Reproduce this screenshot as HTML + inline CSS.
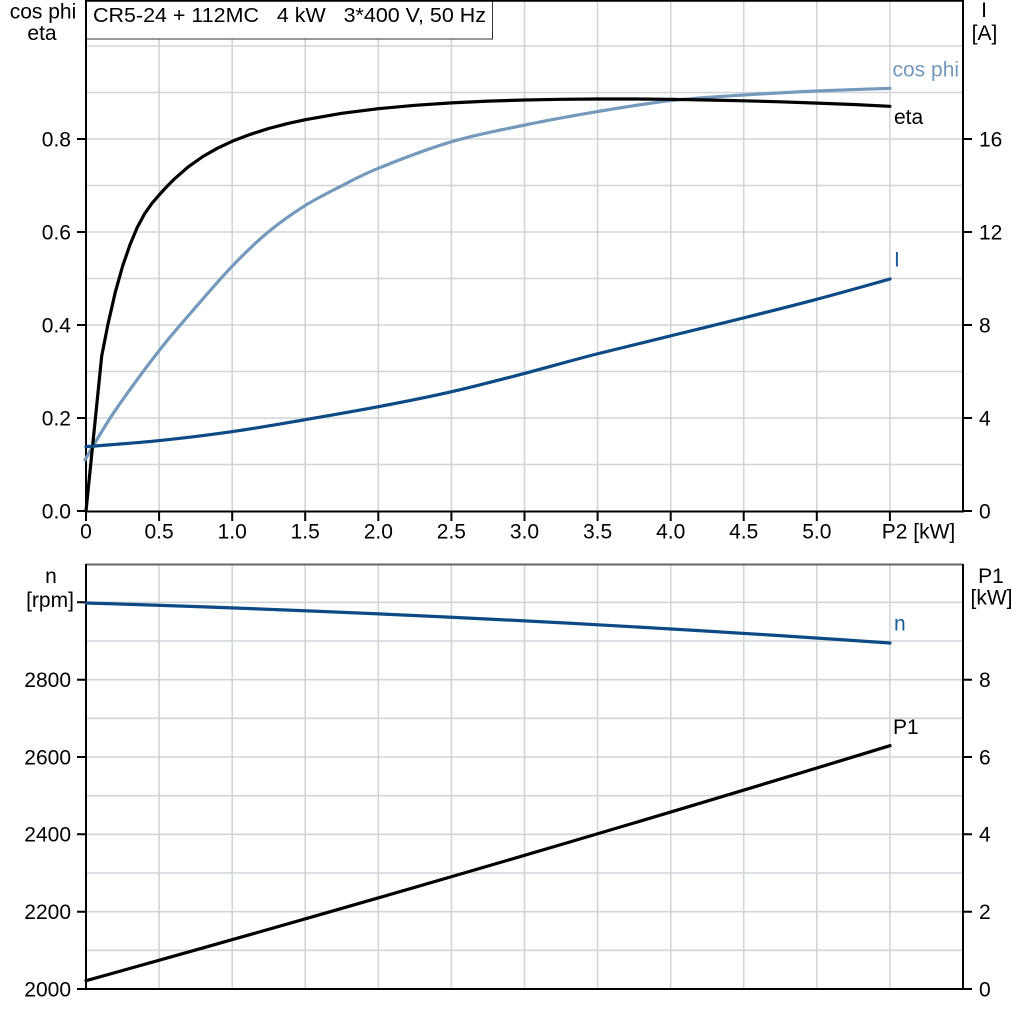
<!DOCTYPE html>
<html><head><meta charset="utf-8"><style>
html,body{margin:0;padding:0;background:#fff;}
svg{display:block;}
text{font-family:"Liberation Sans",Arial,sans-serif;font-size:21px;fill:#000;}
</style></head><body>
<svg width="1024" height="1024" viewBox="0 0 1024 1024" xmlns="http://www.w3.org/2000/svg">
<rect width="1024" height="1024" fill="#fff"/>
<!-- top grid -->
<g stroke="#d2d5d8" stroke-width="1.6" fill="none">
<path d="M86 464.5H963M86 418H963M86 371.5H963M86 325H963M86 278.5H963M86 232H963M86 185.5H963M86 139H963M86 92.5H963M86 46H963"/>
<path d="M159.1 0V511M232.2 0V511M305.2 0V511M378.3 0V511M451.4 0V511M524.5 0V511M597.6 0V511M670.7 0V511M743.7 0V511M816.8 0V511M889.9 0V511"/>
<!-- bottom grid -->
<path d="M86 950.3H963M86 911.7H963M86 873H963M86 834.3H963M86 795.7H963M86 757H963M86 718.3H963M86 679.7H963M86 641H963M86 602.3H963"/>
<path d="M159.1 564V989M232.2 564V989M305.2 564V989M378.3 564V989M451.4 564V989M524.5 564V989M597.6 564V989M670.7 564V989M743.7 564V989M816.8 564V989M889.9 564V989"/>
</g>
<!-- title box -->
<rect x="86.5" y="0.5" width="406" height="38.5" fill="#fff" stroke="#333" stroke-width="1"/>
<text x="93" y="22" xml:space="preserve" textLength="393" lengthAdjust="spacingAndGlyphs" style="font-size:20px">CR5-24 + 112MC   4 kW   3*400 V, 50 Hz</text>
<!-- top axes -->
<g stroke="#000" stroke-width="2" fill="none">
<path d="M86 0.8H963"/>
<path d="M86 0V512M963 0V512M85 511.5H964"/>
<path d="M77 511H86M77 418H86M77 325H86M77 232H86M77 139H86"/>
<path d="M963 511H972M963 418H972M963 325H972M963 232H972M963 139H972"/>
<path d="M86 512V521M159.1 512V521M232.2 512V521M305.2 512V521M378.3 512V521M451.4 512V521M524.5 512V521M597.6 512V521M670.7 512V521M743.7 512V521M816.8 512V521M889.9 512V521"/>
</g>
<!-- bottom axes -->
<path d="M86 564.5H963" stroke="#666" stroke-width="2"/>
<g stroke="#000" stroke-width="2" fill="none">
<path d="M86 564V990M963 564V990M85 989H964"/>
<path d="M77 989H86M77 911.7H86M77 834.3H86M77 757H86M77 679.7H86M77 602.3H86"/>
<path d="M963 989H972M963 911.7H972M963 834.3H972M963 757H972M963 679.7H972"/>
</g>
<!-- top series -->
<g fill="none" stroke-width="3.2" stroke-linejoin="round" stroke-linecap="round">
<path stroke="#7499bc" d="M85,460 C89.7,452.2 101.1,431.4 113.3,413.3 C125.5,395.3 145,368.9 158.3,351.7 C171.6,334.5 181.1,324.2 193.3,310 C205.5,295.8 219.5,279.5 231.7,266.7 C243.9,253.9 254.8,243.3 266.7,233.3 C278.6,223.3 291.1,214.5 303.3,206.7 C315.5,198.9 327.5,193.1 340,186.7 C352.5,180.3 359.7,175.8 378.3,168.3 C396.9,160.8 427.3,148.9 451.7,141.7 C476.1,134.5 500.8,130 525,125 C549.2,120 572.5,115.8 596.7,111.7 C620.9,107.7 645.6,103.5 670,100.7 C694.4,97.9 718.9,96.6 743.3,95 C767.8,93.4 792.3,92.1 816.7,91 C841.2,89.9 877.8,88.8 890,88.3"/>
<polyline stroke="#000" points="86,511 101.7,356 107.9,324.5 115.2,292.6 122.5,266.5 129.9,245 137.2,227.5 144.5,214 151.8,203.5 159.1,195 166.4,187 173.7,179.6 188.3,166.8 202.9,156.5 217.5,148.2 232.2,141.3 250.5,134.3 268.7,128.5 287,123.7 305.3,119.7 341.8,113.3 378.3,108.7 414.9,105.3 451.4,102.9 488,101.1 524.5,100 561,99.3 597.6,99 634.1,99 670.7,99.3 707.2,100 743.8,100.8 780.3,101.8 816.9,103.1 853.4,104.5 889.9,106.3"/>
<path stroke="#0d4a85" d="M86,446.7 C98.05,445.7 134.0,443.2 158.3,440.7 C182.6,438.2 207.5,435.2 231.7,431.7 C255.9,428.3 278.9,424.2 303.3,420 C327.7,415.8 353.6,411.4 378.3,406.7 C403.0,402.0 427.3,397.3 451.7,391.7 C476.1,386.1 500.8,379.6 525,373.3 C549.2,367.0 572.3,360.2 596.7,354 C621.1,347.8 645.6,342.1 670,336 C694.4,329.9 718.9,324.1 743.3,318 C767.8,311.9 792.3,305.8 816.7,299.3 C841.2,292.8 877.8,282.4 890,279"/>
</g>
<!-- bottom series -->
<g fill="none" stroke-width="3.2" stroke-linejoin="round" stroke-linecap="round">
<path stroke="#0d4a85" d="M86,603 Q488,615.06 890,643"/>
<path stroke="#000" d="M86,980.7 Q478.6,871.6 890,745.7"/>
</g>
<!-- left tick labels -->
<g text-anchor="end">
<text x="71" y="518.5">0.0</text>
<text x="71" y="425.5">0.2</text>
<text x="71" y="332.5">0.4</text>
<text x="71" y="239.5">0.6</text>
<text x="71" y="146.5">0.8</text>
<text x="71" y="996.5">2000</text>
<text x="71" y="919">2200</text>
<text x="71" y="841.5">2400</text>
<text x="71" y="764.5">2600</text>
<text x="71" y="687">2800</text>
</g>
<g text-anchor="start">
<text x="979" y="518.5">0</text>
<text x="979" y="425.5">4</text>
<text x="979" y="332.5">8</text>
<text x="979" y="239.5">12</text>
<text x="979" y="146.5">16</text>
<text x="979" y="996.5">0</text>
<text x="979" y="919">2</text>
<text x="979" y="841.5">4</text>
<text x="979" y="764.5">6</text>
<text x="979" y="687">8</text>
</g>
<!-- x labels -->
<g text-anchor="middle">
<text x="86" y="538.5">0</text>
<text x="159.1" y="538.5">0.5</text>
<text x="232.2" y="538.5">1.0</text>
<text x="305.2" y="538.5">1.5</text>
<text x="378.3" y="538.5">2.0</text>
<text x="451.4" y="538.5">2.5</text>
<text x="524.5" y="538.5">3.0</text>
<text x="597.6" y="538.5">3.5</text>
<text x="670.7" y="538.5">4.0</text>
<text x="743.7" y="538.5">4.5</text>
<text x="816.8" y="538.5">5.0</text>
<text x="918.5" y="538.5">P2 [kW]</text>
<!-- axis titles -->
<text x="43" y="18.5">cos phi</text>
<text x="42" y="40">eta</text>
<text x="984" y="17">I</text>
<text x="984.5" y="40">[A]</text>
<text x="51" y="583">n</text>
<text x="50" y="607">[rpm]</text>
<text x="991" y="583">P1</text>
<text x="991.5" y="604.5">[kW]</text>
</g>
<!-- curve labels -->
<text x="892.5" y="76.5" style="fill:#7499bc">cos phi</text>
<text x="894" y="124">eta</text>
<text x="894" y="266.5" style="fill:#1a5c9c">I</text>
<text x="894" y="630.5" style="fill:#1a5c9c">n</text>
<text x="893" y="734">P1</text>
</svg>
</body></html>
